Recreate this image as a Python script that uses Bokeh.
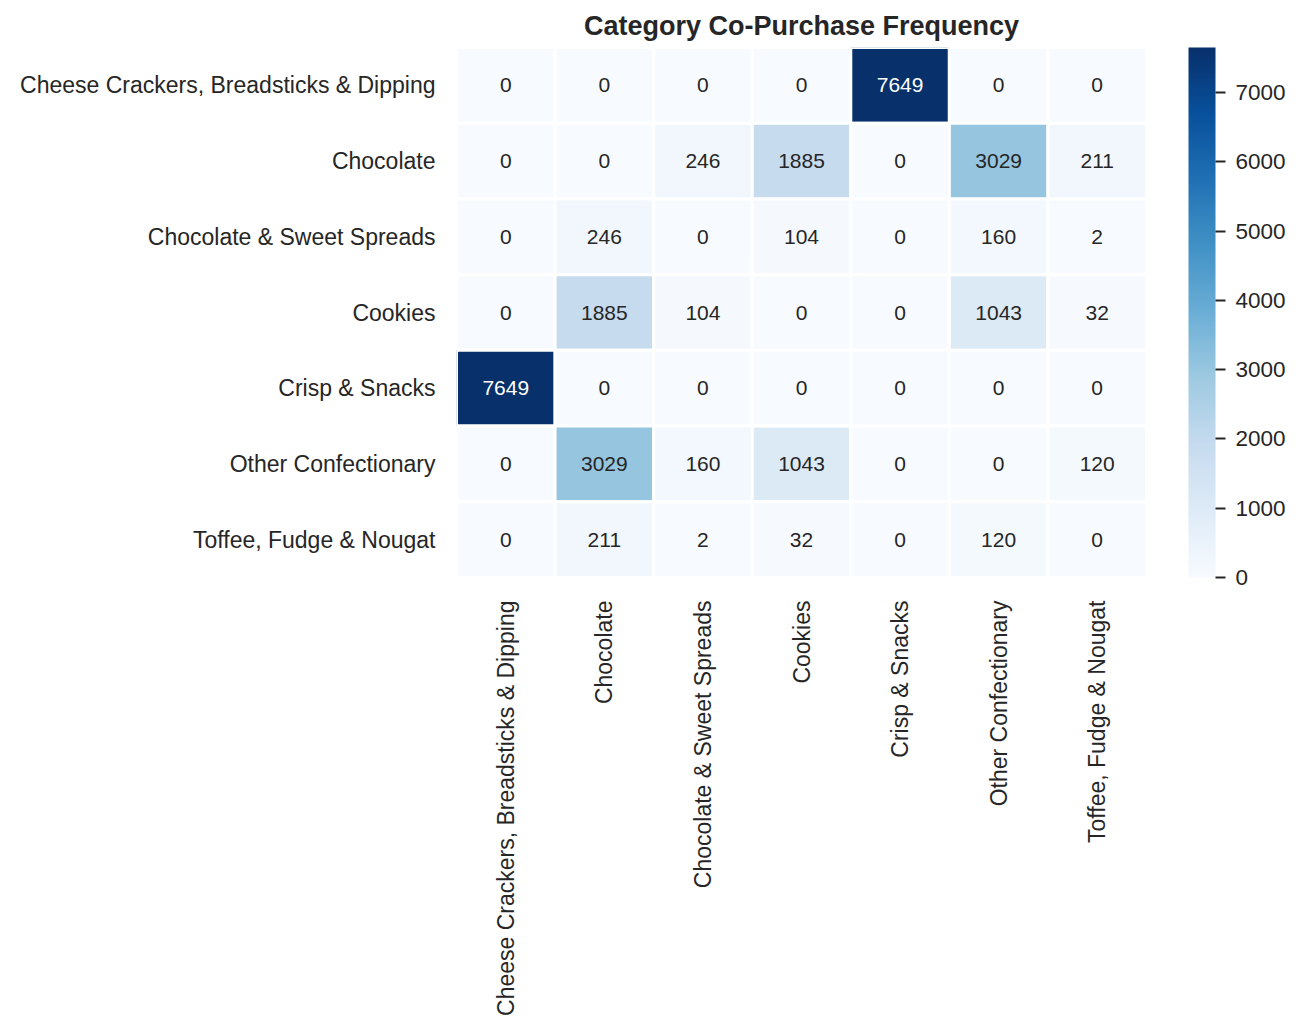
import math

from bokeh.plotting import figure
from bokeh.models import ColumnDataSource, LinearColorMapper, ColorBar, FixedTicker
from bokeh.palettes import Blues256
from bokeh.core.properties import value
from bokeh.embed import file_html
from bokeh.resources import INLINE

categories = ["Cheese Crackers, Breadsticks & Dipping", "Chocolate",
              "Chocolate & Sweet Spreads", "Cookies", "Crisp & Snacks",
              "Other Confectionary", "Toffee, Fudge & Nougat"]

# co-purchase counts, row by row
counts = [
    [0, 0, 0, 0, 7649, 0, 0],
    [0, 0, 246, 1885, 0, 3029, 211],
    [0, 246, 0, 104, 0, 160, 2],
    [0, 1885, 104, 0, 0, 1043, 32],
    [7649, 0, 0, 0, 0, 0, 0],
    [0, 3029, 160, 1043, 0, 0, 120],
    [0, 211, 2, 32, 0, 120, 0],
]
cbar_ticks = [0, 1000, 2000, 3000, 4000, 5000, 6000, 7000]

xs, ys, vals, labels, tcolors = [], [], [], [], []
vmax = max(max(r) for r in counts)
for i, row_cat in enumerate(categories):
    for j, col_cat in enumerate(categories):
        v = counts[i][j]
        xs.append(col_cat)
        ys.append(row_cat)
        vals.append(v)
        labels.append(str(v))
        tcolors.append("white" if v > vmax * 0.6 else "#262626")

src = ColumnDataSource(dict(x=xs, y=ys, v=vals, lab=labels, tc=tcolors))
mapper = LinearColorMapper(palette=list(reversed(Blues256)), low=0, high=vmax)

FONT = "Liberation Sans"

p = figure(x_range=categories, y_range=list(reversed(categories)),
           frame_width=690, frame_height=530,
           output_backend="svg", toolbar_location=None,
           title="Category Co-Purchase Frequency",
           min_border_left=456, min_border_bottom=445, min_border_top=47,
           min_border_right=10)
p.rect("x", "y", 1, 1, source=src, fill_color={"field": "v", "transform": mapper},
       line_color="white", line_width=3)
p.text("x", "y", text="lab", source=src, text_color="tc", text_align="center",
       text_baseline="middle", text_font_size="21px", text_font=value(FONT))

p.title.align = "center"
p.title.text_font = FONT
p.title.text_font_size = "27px"
p.title.text_font_style = "bold"
p.title.text_color = "#262626"
p.title.standoff = 14

for ax in (p.xaxis, p.yaxis):
    ax.axis_line_color = None
    ax.major_tick_line_color = None
    ax.minor_tick_line_color = None
    ax.major_label_text_font = FONT
    ax.major_label_text_font_size = "23px"
    ax.major_label_text_color = "#262626"
p.yaxis.major_label_standoff = 15
p.xaxis.major_label_standoff = 17
p.xaxis.major_label_orientation = math.pi / 2

p.grid.grid_line_color = None
p.outline_line_color = None
p.x_range.range_padding = 0
p.y_range.range_padding = 0

cb = ColorBar(color_mapper=mapper, ticker=FixedTicker(ticks=cbar_ticks),
              width=27, padding=0, margin=0, location=(42, 0), bar_line_color=None,
              major_tick_in=0, major_tick_out=10, major_tick_line_color="#262626",
              major_tick_line_width=2,
              major_label_text_font=FONT, major_label_text_font_size="22.5px",
              major_label_text_color="#262626", label_standoff=10)
p.add_layout(cb, "right")

open("out.html", "w").write(file_html(p, INLINE))
